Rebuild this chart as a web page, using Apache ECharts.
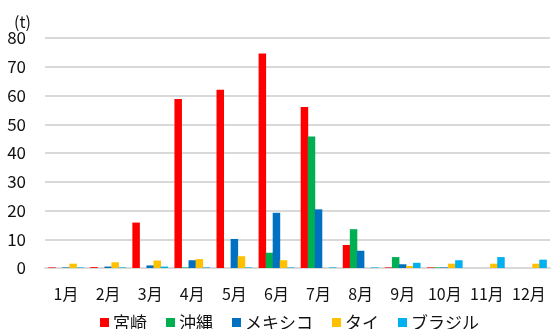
<!DOCTYPE html>
<html>
<head>
<meta charset="utf-8">
<script src="https://cdn.jsdelivr.net/npm/echarts@6/dist/echarts.min.js"></script>
<style>
  html, body { margin: 0; padding: 0; background: #fff; }
  #chart { width: 552px; height: 329px; }
</style>
</head>
<body>
<div id="chart"></div>
<script>
// Monthly volumes (t) by origin
const months = ['1月', '2月', '3月', '4月', '5月', '6月', '7月', '8月', '9月', '10月', '11月', '12月'];
const yTicks = [0, 10, 20, 30, 40, 50, 60, 70, 80];

const miyazaki = [0.2, 0.3, 15.8, 58.8, 62.0, 74.6, 56.0, 8.0, 0.2, 0.2, null, null];
const okinawa  = [null, null, null, 0.2, null, 5.3, 45.7, 13.5, 3.8, 0.2, null, null];
const mexico   = [0.2, 0.5, 0.9, 2.7, 10.1, 19.2, 20.4, 6.0, 1.3, 0.2, null, null];
const thai     = [1.5, 2.0, 2.6, 3.1, 4.1, 2.7, null, null, 0.7, 1.5, 1.5, 1.5];
const brazil   = [0.2, 0.2, 0.5, 0.2, 0.2, 0.2, 0.2, 0.2, 1.8, 2.7, 3.8, 2.9];

const seriesNames  = ['宮崎', '沖縄', 'メキシコ', 'タイ', 'ブラジル'];
const seriesData   = [miyazaki, okinawa, mexico, thai, brazil];
const seriesColors = ['#FF0000', '#00B050', '#0070C0', '#FFC000', '#00B0F0'];

const FONT = '"Noto Sans CJK JP", "Noto Sans", sans-serif';
const TEXT = '#111111';

const chart = echarts.init(document.getElementById('chart'), null, { renderer: 'canvas' });

chart.setOption({
  animation: false,
  color: seriesColors,
  textStyle: { fontFamily: FONT, color: TEXT },
  title: {
    text: '(t)',
    left: 9,
    top: 9,
    textStyle: { fontFamily: FONT, fontSize: 16, fontWeight: 'normal', color: TEXT }
  },
  grid: { left: 45, right: 2, top: 38, bottom: 61, containLabel: false },
  legend: {
    data: seriesNames,
    left: 95,
    top: 309,
    itemWidth: 9,
    itemHeight: 9,
    itemGap: 19,
    icon: 'rect',
    textStyle: { fontFamily: FONT, fontSize: 17, color: TEXT, padding: [0, 0, 0, -1] }
  },
  xAxis: {
    type: 'category',
    data: months,
    axisLine: { show: true, lineStyle: { color: '#d9d9d9', width: 2 } },
    axisTick: { show: false },
    axisLabel: { fontFamily: FONT, fontSize: 16, color: TEXT, margin: 18, interval: 0 }
  },
  yAxis: {
    type: 'value',
    min: yTicks[0],
    max: yTicks[yTicks.length - 1],
    interval: yTicks[1] - yTicks[0],
    axisLine: { show: false },
    axisTick: { show: false },
    splitLine: { lineStyle: { color: '#d9d9d9', width: 2 } },
    axisLabel: { fontFamily: FONT, fontSize: 17, color: TEXT, margin: 19 }
  },
  series: seriesNames.map((name, i) => ({
    name: name,
    type: 'bar',
    data: seriesData[i],
    barWidth: 7.5,
    barGap: '-6%',
    itemStyle: { color: seriesColors[i] }
  }))
});
</script>
</body>
</html>
